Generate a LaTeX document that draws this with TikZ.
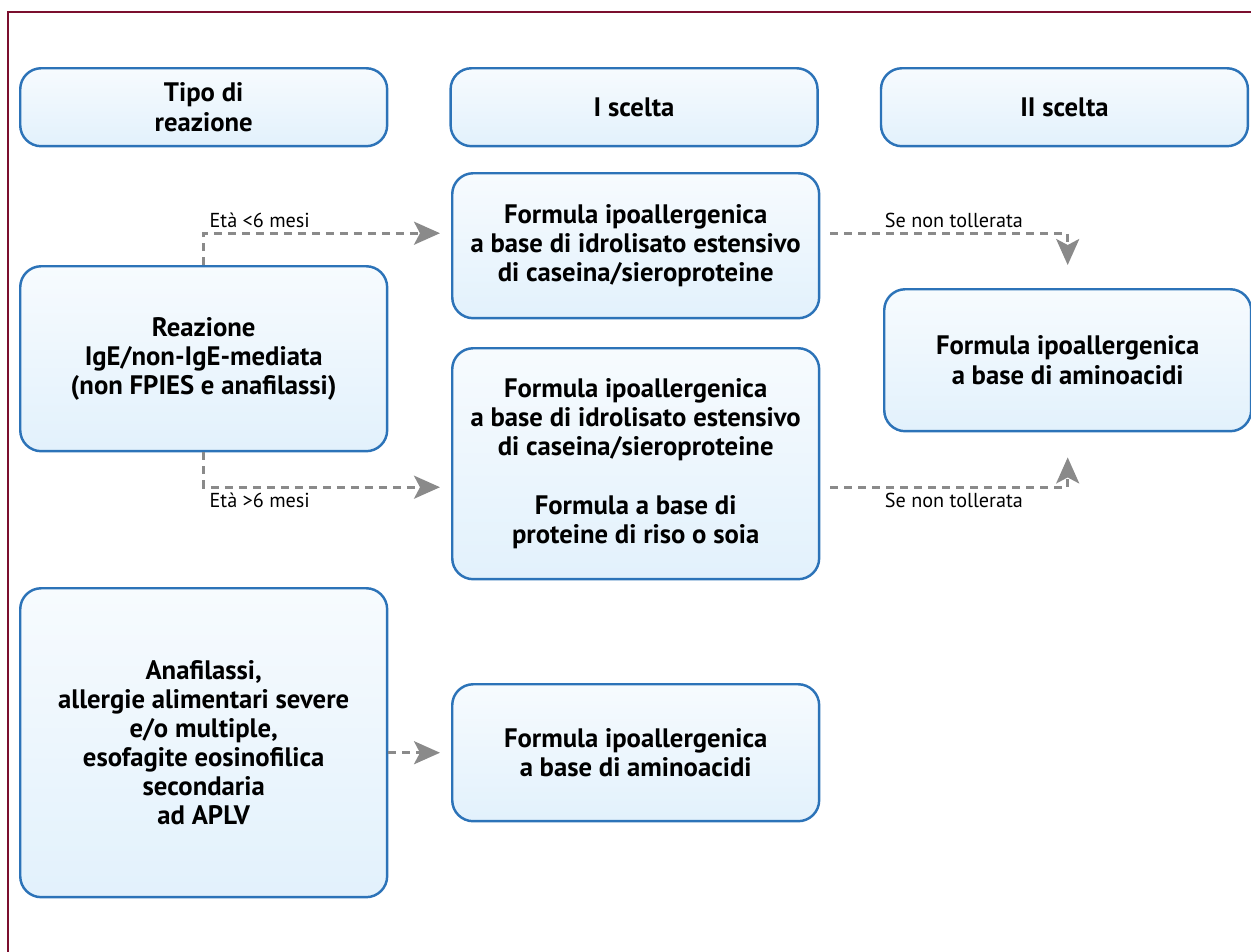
\documentclass[tikz,border=0pt]{standalone}
\usepackage{fontspec}
\setmainfont{PT Sans}
\usetikzlibrary{positioning,arrows.meta}

\definecolor{boxblue}{HTML}{2C73B8}
\definecolor{boxtop}{HTML}{F7FBFE}
\definecolor{boxbottom}{HTML}{E2F1FC}
\definecolor{linkgray}{HTML}{8A8A8A}
\definecolor{framered}{HTML}{7B0F2E}

\begin{document}
\begin{tikzpicture}[
    x=0.02cm, y=-0.02cm,
    node distance=1.22cm,
    cell/.style={
        rectangle, rounded corners=0.42cm,
        draw=boxblue, line width=1.4pt,
        top color=boxtop, bottom color=boxbottom,
        minimum width=7.34cm, align=center, anchor=north west,
        font=\fontsize{15.2}{16.6}\selectfont\bfseries, inner sep=4pt
    },
    note/.style={
        font=\fontsize{11.5}{13}\selectfont, inner sep=2.5pt
    },
    link/.style={
        draw=linkgray, line width=1.7pt, dash pattern=on 0.16cm off 0.12cm,
        -{Stealth[length=0.52cm, width=0.46cm, inset=0.12cm]}
    }
]
\useasboundingbox (0,0) rectangle (1251,951);

%% Outer frame
\draw[framered, line width=1.3pt] (8,12) rectangle (1280,980);

%% Column headers
\node[cell, minimum height=1.56cm] (H1) at (19,67) {Tipo di\\reazione};
\node[cell, minimum height=1.56cm, right=of H1] (H2) {I scelta};
\node[cell, minimum height=1.56cm, right=of H2] (H3) {II scelta};

%% Reaction types
\node[cell, minimum height=3.7cm] (R1) at (19,265)
    {Reazione\\IgE/non-IgE-mediata\\(non FPIES e anafilassi)};
\node[cell, minimum height=6.18cm] (R2) at (19,587)
    {Anafilassi,\\allergie alimentari severe\\e/o multiple,\\esofagite eosinofilica\\secondaria\\ad APLV};

%% First choice
\node[cell, minimum height=2.9cm] (F1) at (451,172)
    {Formula ipoallergenica\\a base di idrolisato estensivo\\di caseina/sieroproteine};
\node[cell, minimum height=4.62cm] (F2) at (451,347)
    {Formula ipoallergenica\\a base di idrolisato estensivo\\di caseina/sieroproteine\\[\baselineskip]
     Formula a base di\\proteine di riso o soia};
\node[cell, minimum height=2.74cm] (F3) at (451,683)
    {Formula ipoallergenica\\a base di aminoacidi};

%% Second choice
\node[cell, minimum height=2.84cm] (S1) at (883,288)
    {Formula ipoallergenica\\a base di aminoacidi};

%% Arrows
\draw[link, shorten >=0.22cm] (R1.north) |- ([yshift=0.25cm]F1.west)
    node[note, pos=0.5, anchor=south west] {Età <6 mesi};
\draw[link, shorten >=0.22cm] (R1.south) |- ([yshift=-0.47cm]F2.west)
    node[note, pos=0.5, anchor=north west] {Età >6 mesi};
\draw[link, shorten >=0.22cm] (R2.east |- F3.west) -- (F3.west);
\draw[link, shorten <=0.2cm, shorten >=0.46cm] ([yshift=0.25cm]F1.east) -| (S1.north)
    node[note, pos=0.27, above] {Se non tollerata};
\draw[link, shorten <=0.2cm, shorten >=0.5cm] ([yshift=-0.47cm]F2.east) -| (S1.south)
    node[note, pos=0.27, below] {Se non tollerata};

\end{tikzpicture}
\end{document}
